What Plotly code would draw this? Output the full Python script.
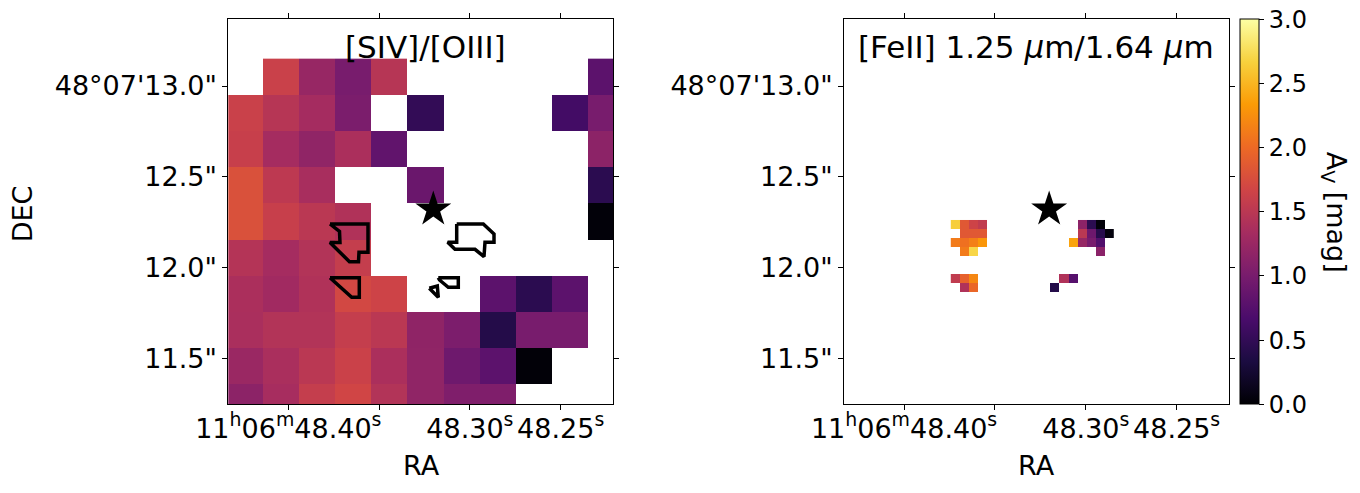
import numpy as np
import plotly.graph_objects as go

# A_V maps (mag), rows run top (north) to bottom, columns east to west
siv_oiii_av = [
    [None, 1.62, 1.23, 1.00, 1.47, None, None, None, None, None, 0.80],
    [1.62, 1.47, 1.33, 1.02, None, 0.50, None, None, None, 0.62, 1.00],
    [1.60, 1.33, 1.18, 1.38, 0.83, None, None, None, None, None, 1.15],
    [1.78, 1.52, 1.36, None, None, 0.90, None, None, None, None, 0.45],
    [1.78, 1.60, 1.50, 1.42, None, None, None, None, None, None, 0.03],
    [1.45, 1.33, 1.44, 1.58, None, None, None, None, None, None, None],
    [1.38, 1.30, 1.42, 1.70, 1.65, None, None, 0.80, 0.45, 0.80, None],
    [1.37, 1.44, 1.44, 1.58, 1.50, 1.17, 1.03, 0.40, 1.00, 1.00, None],
    [1.25, 1.37, 1.50, 1.63, 1.38, 1.18, 0.93, 0.80, 0.02, None, None],
    [1.15, 1.35, 1.58, 1.68, 1.44, 1.18, 1.05, 1.05, None, None, None],
]

_ = None
feii_av = [
    [2.65, 1.85, 1.65, 1.55, _, _, _, _, _, _, _, _, _, _, 1.15, 0.45, 0.03, _],
    [_, 1.85, 1.85, 1.85, _, _, _, _, _, _, _, _, _, _, 1.50, 0.92, 0.42, 0.05],
    [2.12, 2.05, 2.15, 2.30, _, _, _, _, _, _, _, _, _, 2.38, 1.22, 1.00, 0.72, _],
    [_, 2.12, 2.70, _, _, _, _, _, _, _, _, _, _, _, _, _, 1.13, _],
    [_, _, _, _, _, _, _, _, _, _, _, _, _, _, _, _, _, _],
    [_, _, _, _, _, _, _, _, _, _, _, _, _, _, _, _, _, _],
    [1.55, 1.93, 2.20, _, _, _, _, _, _, _, _, _, 1.42, 0.75, _, _, _, _],
    [_, 1.42, 1.97, _, _, _, _, _, _, _, _, 0.40, _, _, _, _, _, _],
]

# pixel grids (RA in seconds of 11h06m, Dec in arcsec of +48d07')
coarse_ra0, coarse_dra = 48.42407, 0.01991
coarse_dec0, coarse_ddec = 13.0510, 0.19944
fine_ra0, fine_dra = 48.37179, 0.004978
fine_dec0, fine_ddec = 12.2364, 0.04984

coarse_ra = coarse_ra0 - coarse_dra * np.arange(len(siv_oiii_av[0]))
coarse_dec = coarse_dec0 - coarse_ddec * np.arange(len(siv_oiii_av))
fine_ra = fine_ra0 - fine_dra * np.arange(len(feii_av[0]))
fine_dec = fine_dec0 - fine_ddec * np.arange(len(feii_av))

# source position
star_ra = [48.32015]
star_dec = [12.3203]

# contours shown on the [SIV]/[OIII] panel
contour_a_ra = [48.37704, 48.35611, 48.35611, 48.36107, 48.36134, 48.36630, 48.37704, 48.37153, 48.37180, 48.37704]
contour_a_dec = [12.2392, 12.2392, 12.0832, 12.0832, 12.0314, 12.0314, 12.1372, 12.1372, 12.1979, 12.2392]
contour_b_ra = [48.30726, 48.29261, 48.28672, 48.28672, 48.29168, 48.29223, 48.29719, 48.30820, 48.31222, 48.30726, 48.30726]
contour_b_dec = [12.2392, 12.2392, 12.1841, 12.1383, 12.1383, 12.0589, 12.0997, 12.0997, 12.1383, 12.1383, 12.2392]
contour_c_ra = [48.37704, 48.36090, 48.36090, 48.36509, 48.37704]
contour_c_dec = [11.9432, 11.9432, 11.8351, 11.8351, 11.9432]
contour_d_ra = [48.31740, 48.30638, 48.30638, 48.31189, 48.31673, 48.31740]
contour_d_dec = [11.9432, 11.9432, 11.8902, 11.8902, 11.9305, 11.9432]
contour_e_ra = [48.32235, 48.31794, 48.31740, 48.32235]
contour_e_dec = [11.8847, 11.8974, 11.8351, 11.8847]

ra_ticks = [48.40, 48.35, 48.30, 48.25]
ra_labels = ['11<sup>h</sup>06<sup>m</sup>48.40<sup>s</sup>', ' ', '48.30<sup>s</sup>', '48.25<sup>s</sup>']
dec_ticks = [13.0, 12.5, 12.0, 11.5]
dec_labels = ['48°07\'13.0"', '12.5"', '12.0"', '11.5"']

panel_titles = ['[SIV]/[OIII]', '[FeII] 1.25 <i>μ</i>m/1.64 <i>μ</i>m']

W, H = 1360, 493
FONT = 'DejaVu Sans'

fig = go.Figure()

fig.add_trace(go.Heatmap(
    x=coarse_ra, y=coarse_dec, z=siv_oiii_av,
    coloraxis='coloraxis', xaxis='x', yaxis='y', hoverongaps=False,
))
fig.add_trace(go.Heatmap(
    x=fine_ra, y=fine_dec, z=feii_av,
    coloraxis='coloraxis', xaxis='x2', yaxis='y2', hoverongaps=False,
))

cont_ra, cont_dec = [], []
for r, d in [(contour_a_ra, contour_a_dec), (contour_b_ra, contour_b_dec),
             (contour_c_ra, contour_c_dec), (contour_d_ra, contour_d_dec),
             (contour_e_ra, contour_e_dec)]:
    cont_ra += r + [None]
    cont_dec += d + [None]
fig.add_trace(go.Scatter(x=cont_ra, y=cont_dec, mode='lines',
                         line=dict(color='black', width=3.5), xaxis='x', yaxis='y',
                         showlegend=False))

for xa, ya in [('x', 'y'), ('x2', 'y2')]:
    fig.add_trace(go.Scatter(x=star_ra, y=star_dec, mode='markers',
                             marker=dict(symbol='star', size=27, color='black'),
                             xaxis=xa, yaxis=ya, showlegend=False))

x_range = [48.43304, 48.22102]
y_range = [11.2452, 13.3677]
axis_common = dict(showline=True, linecolor='black', linewidth=1, mirror='allticks',
                   ticks='outside', ticklen=5, tickwidth=1, tickcolor='black',
                   showgrid=False, zeroline=False, automargin=False,
                   tickfont=dict(family=FONT, size=27, color='black'))

y0, y1 = 1 - 404.3 / H, 1 - 19.3 / H
fig.update_layout(
    width=W, height=H,
    margin=dict(l=0, r=0, t=0, b=0, autoexpand=False),
    paper_bgcolor='white', plot_bgcolor='white',
    font=dict(family=FONT, color='black'),
    showlegend=False,
    xaxis=dict(domain=[228.3 / W, 613.3 / W], range=x_range, anchor='y', tickangle=0,
               ticklabelstandoff=-5, tickvals=ra_ticks, ticktext=ra_labels, **axis_common),
    yaxis=dict(domain=[y0, y1], range=y_range, anchor='x',
               tickvals=dec_ticks, ticktext=dec_labels, **axis_common),
    xaxis2=dict(domain=[844 / W, 1229.3 / W], range=x_range, anchor='y2', tickangle=0,
                ticklabelstandoff=-5, tickvals=ra_ticks, ticktext=ra_labels, **axis_common),
    yaxis2=dict(domain=[y0, y1], range=y_range, anchor='x2',
                tickvals=dec_ticks, ticktext=dec_labels, **axis_common),
    coloraxis=dict(
        colorscale='Inferno', cmin=0, cmax=3,
        colorbar=dict(
            x=1240 / W, xanchor='left', y=y0, yanchor='bottom', xpad=0, ypad=0,
            len=y1 - y0, lenmode='fraction', thickness=19,
            outlinewidth=1, outlinecolor='black',
            ticks='outside', ticklen=5, tickcolor='black',
            tickvals=[0, 0.5, 1.0, 1.5, 2.0, 2.5, 3.0], tickformat='.1f',
            tickfont=dict(family=FONT, size=24, color='black'),
        ),
    ),
)

annotations = [
    dict(text=panel_titles[0], x=425.8 / W, y=1 - 47.5 / H),
    dict(text=panel_titles[1], x=1035.8 / W, y=1 - 47.5 / H),
]
for a in annotations:
    fig.add_annotation(xref='paper', yref='paper', showarrow=False,
                       xanchor='center', yanchor='middle',
                       font=dict(family=FONT, size=31, color='black'), **a)

for xc in [421 / W, 1036 / W]:
    fig.add_annotation(text='RA', xref='paper', yref='paper', x=xc, y=1 - 465.8 / H,
                       showarrow=False, xanchor='center', yanchor='middle',
                       font=dict(family=FONT, size=27, color='black'))
fig.add_annotation(text='DEC', xref='paper', yref='paper', x=23.3 / W, y=1 - 214 / H,
                   showarrow=False, xanchor='center', yanchor='middle', textangle=-90,
                   font=dict(family=FONT, size=27, color='black'))
# colorbar label, reading top to bottom as in the original
fig.add_annotation(text='A<sub>V</sub> [mag]', xref='paper', yref='paper',
                   x=1334 / W, y=1 - 211.7 / H, showarrow=False,
                   xanchor='center', yanchor='middle', textangle=90,
                   font=dict(family=FONT, size=27, color='black'))

# drop the default page margin so the figure sits at the window's corner
fig.write_html('out.html', config={'displayModeBar': False},
               post_script="document.body.style.margin='0';")
